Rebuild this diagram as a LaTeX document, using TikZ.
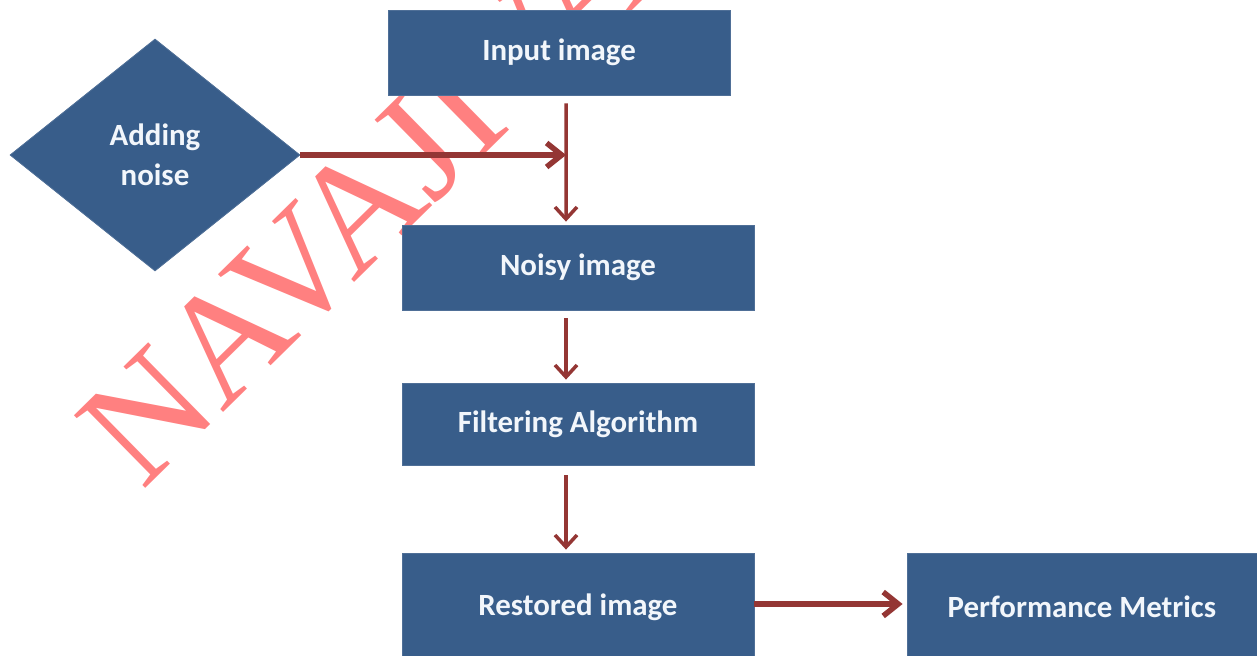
\documentclass[tikz,border=0pt]{standalone}
\usepackage{fontspec}
\setmainfont{Carlito}
\newfontfamily\wmfont{Liberation Serif}
\usetikzlibrary{shapes.geometric,arrows.meta,calc}
\definecolor{boxblue}{HTML}{385D8A}
\definecolor{boxedge}{HTML}{4F6F97}
\definecolor{arrred}{HTML}{943634}
\definecolor{wmred}{HTML}{FF8080}
\definecolor{txtw}{HTML}{F2F6FB}
\begin{document}
\begin{tikzpicture}[x=1bp,y=-1bp,
  blockbox/.style={rectangle, fill=boxblue, draw=boxedge, line width=0.8bp, text=txtw,
    font=\bfseries\fontsize{31}{36}\selectfont, inner sep=0pt},
  decision/.style={diamond, fill=boxblue, draw=boxedge, line width=0.8bp, text=txtw,
    font=\bfseries\fontsize{31}{40}\selectfont, align=center,
    minimum width=290bp, minimum height=232bp, inner sep=0pt},
  varrow/.style={draw=arrred, line width=3.5bp, -{Straight Barb[length=12bp,width=22bp]}},
  harrow/.style={draw=arrred, line width=5.5bp, -{Straight Barb[length=15bp,width=24bp]}},
  watermark/.style={anchor=base west, rotate=44.5, text=wmred, inner sep=0pt,
    font=\wmfont\fontsize{156}{156}\selectfont}
]
\fill[white] (0,0) rectangle (1257,656);
\useasboundingbox (0,0) rectangle (1257,656);
\clip (0,0) rectangle (1257,656);

% watermark (behind everything)
\node[watermark] (wm) at (142,492) {NAVAJIVAN};

% nodes
\node[blockbox, minimum width=342bp, minimum height=85bp] (in) at (559,52.5) {Input image};
\node[decision] (dm) at (155,155) {Adding\\noise};
\node[blockbox, minimum width=352bp, minimum height=85bp] (noisy) at (578,267.5) {Noisy image};
\node[blockbox, minimum width=352bp, minimum height=82bp] (filt) at (578,424) {Filtering Algorithm};
\node[blockbox, minimum width=352bp, minimum height=108bp] (rest) at (578,607) {Restored image};
\node[blockbox, minimum width=350bp, minimum height=108bp] (perf) at (1082,607) {Performance Metrics};

% connectors
\coordinate (join) at (566,155);
\draw[varrow] ([xshift=7bp,yshift=-8bp]in.south) -- ([xshift=-12bp,yshift=3bp]noisy.north);
\draw[harrow] (dm.east) -- (join);
\draw[varrow] ([xshift=-12bp,yshift=-8bp]noisy.south) -- ([xshift=-12bp,yshift=3bp]filt.north);
\draw[varrow] ([xshift=-12bp,yshift=-10bp]filt.south) -- ([xshift=-12bp,yshift=3bp]rest.north);
\draw[harrow] ([yshift=3bp]rest.east) -- ([yshift=3bp,xshift=-4bp]perf.west);
\end{tikzpicture}
\end{document}
